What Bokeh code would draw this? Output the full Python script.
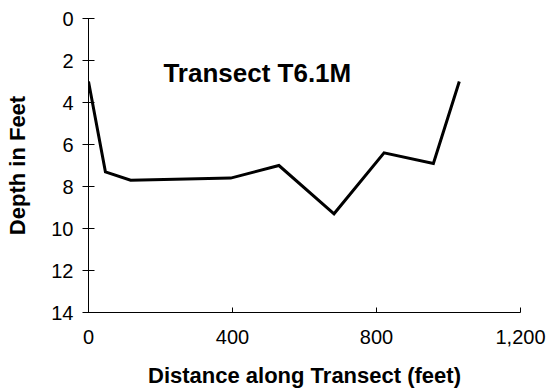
from bokeh.plotting import figure
from bokeh.models import Range1d, FixedTicker, NumeralTickFormatter, Label
from bokeh.embed import file_html
from bokeh.resources import INLINE

# Data
distance_ft = [0, 47, 117, 395, 529, 682, 821, 958, 1030]
depth_ft = [3.0, 7.3, 7.7, 7.6, 7.0, 9.3, 6.4, 6.9, 3.0]

x_ticks = [0, 400, 800, 1200]
y_ticks = [0, 2, 4, 6, 8, 10, 12, 14]
title_text = "Transect T6.1M"
x_label = "Distance along Transect (feet)"
y_label = "Depth in Feet"

FONT = "Liberation Sans"

p = figure(width=548, height=390, output_backend="svg", toolbar_location=None,
           x_range=Range1d(0, 1200), y_range=Range1d(14, 0))
p.min_border_left = 88
p.min_border_right = 28
p.min_border_top = 18
p.min_border_bottom = 78
p.background_fill_color = "white"
p.border_fill_color = "white"
p.outline_line_color = None
p.xgrid.visible = False
p.ygrid.visible = False

p.line(distance_ft, depth_ft, line_color="black", line_width=3, line_join="miter")

# X axis
xa = p.xaxis[0]
xa.ticker = FixedTicker(ticks=x_ticks, minor_ticks=[])
xa.formatter = NumeralTickFormatter(format="0,0")
xa.axis_line_color = "black"
xa.axis_line_width = 1
xa.major_tick_in = 5
xa.major_tick_out = 0
xa.minor_tick_line_color = None
xa.major_label_text_font = FONT
xa.major_label_text_font_size = "20px"
xa.major_label_text_color = "black"
xa.major_label_standoff = 17
xa.axis_label = x_label
xa.axis_label_text_font = FONT
xa.axis_label_text_font_size = "22px"
xa.axis_label_text_font_style = "bold"
xa.axis_label_text_color = "black"
xa.axis_label_standoff = 16

# Y axis
ya = p.yaxis[0]
ya.ticker = FixedTicker(ticks=y_ticks, minor_ticks=[])
ya.axis_line_color = "black"
ya.axis_line_width = 1
ya.major_tick_in = 6
ya.major_tick_out = 6
ya.minor_tick_line_color = None
ya.major_label_text_font = FONT
ya.major_label_text_font_size = "20px"
ya.major_label_text_color = "black"
ya.major_label_standoff = 9
ya.axis_label = y_label
ya.axis_label_text_font = FONT
ya.axis_label_text_font_size = "22px"
ya.axis_label_text_font_style = "bold"
ya.axis_label_text_color = "black"
ya.axis_label_standoff = 18

p.add_layout(Label(x=208, y=2.6, text=title_text, text_font=FONT,
                   text_font_size="26px", text_font_style="bold",
                   text_color="black", text_baseline="middle", text_align="left"))

open("out.html", "w").write(file_html(p, INLINE))
